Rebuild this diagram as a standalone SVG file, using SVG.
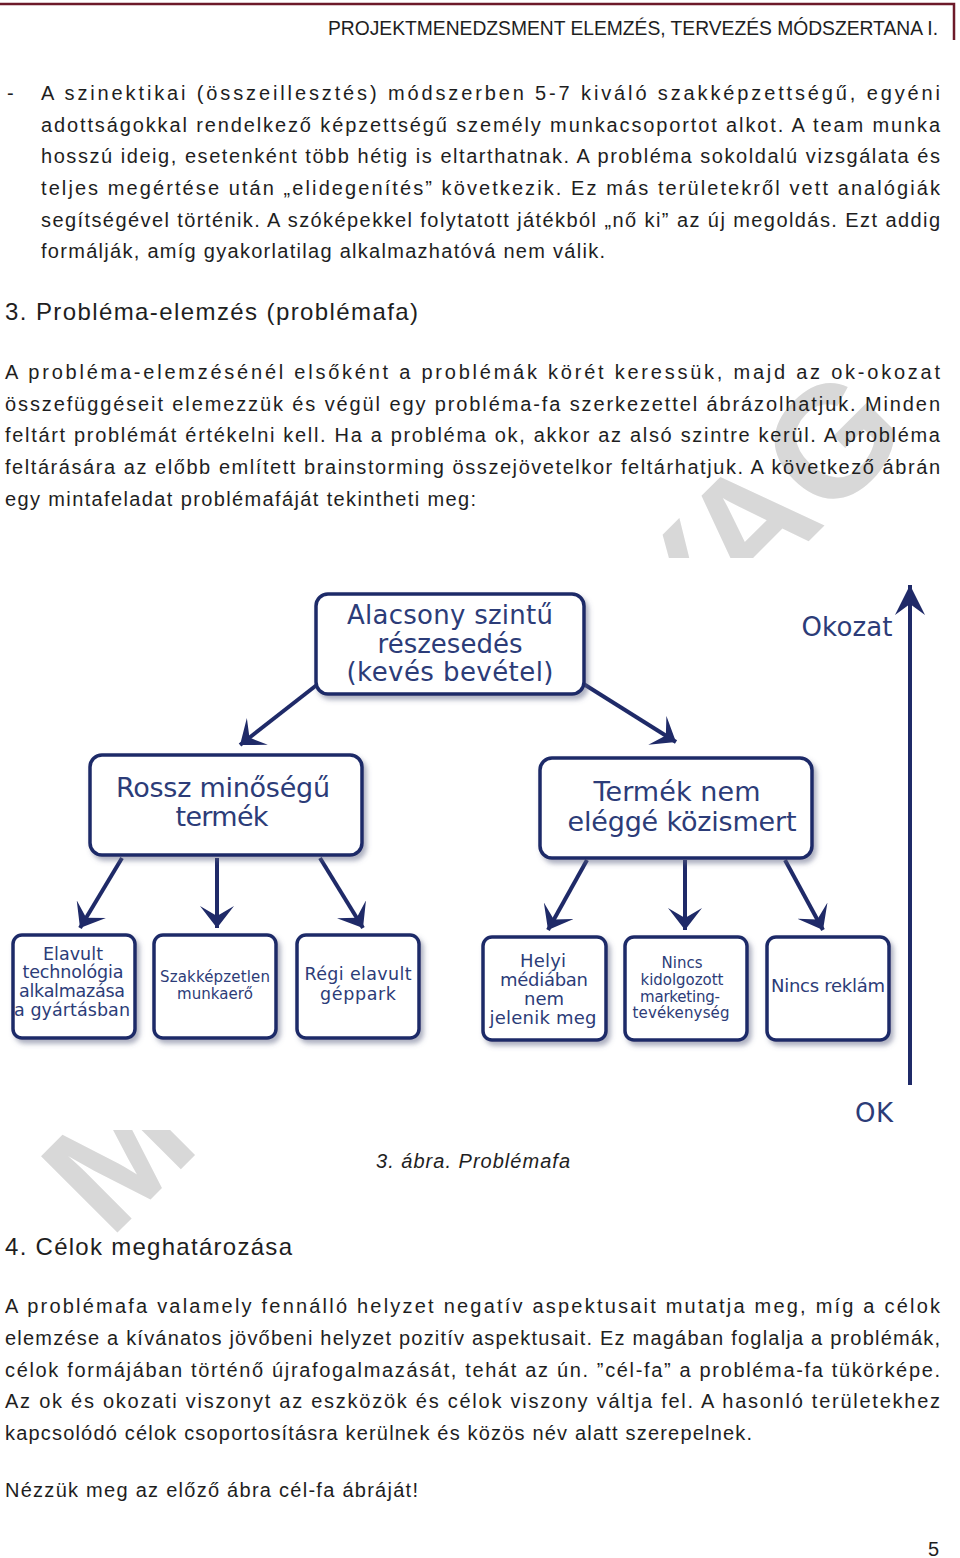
<svg xmlns="http://www.w3.org/2000/svg" width="960" height="1558" viewBox="0 0 960 1558">
<style>
.t{font-family:"Liberation Sans",Arial,sans-serif;font-size:20px;fill:#1e1e1e}
.h{font-size:24px}
.n{font-family:"DejaVu Sans",Verdana,sans-serif;fill:#2c3c78;text-anchor:middle}
.box{fill:#fff;stroke:#1f2a68;stroke-width:3.5}
.c{stroke:#1f2a68;stroke-width:4;fill:none}
.wm{font-family:"Liberation Sans",Arial,sans-serif;font-weight:bold;font-size:157px;fill:#d8d8d8}
</style>
<defs>
<filter id="sh" x="-10%" y="-10%" width="130%" height="140%">
<feDropShadow dx="3" dy="4" stdDeviation="2.5" flood-color="#5a6080" flood-opacity="0.5"/>
</filter>
<marker id="ah" markerUnits="userSpaceOnUse" viewBox="0 0 22 34" markerWidth="22" markerHeight="34" refX="22" refY="17" orient="auto">
<path d="M22,17 L0,0 L10,17 L0,34 Z" fill="#1f2a68"/>
</marker>
<marker id="ah2" markerUnits="userSpaceOnUse" viewBox="0 0 30 30" markerWidth="30" markerHeight="30" refX="30" refY="15" orient="auto">
<path d="M30,15 L0,0 L11,15 L0,30 Z" fill="#1f2a68"/>
</marker>
</defs>
<rect x="0" y="0" width="960" height="1558" fill="#fff"/>

<g id="watermark">
<text class="wm" transform="translate(110,1240) rotate(-45)">MUNKAANYAG</text>
</g>

<g id="header">
<path d="M0,4 H954 V40" fill="none" stroke="#6d1a2a" stroke-width="2.5"/>
<text class="t" x="328" y="35" textLength="610" lengthAdjust="spacingAndGlyphs">PROJEKTMENEDZSMENT ELEMZÉS, TERVEZÉS MÓDSZERTANA I.</text>
</g>

<g id="para1">
<text class="t" x="7" y="100">-</text>
<text class="t" x="41" y="100" textLength="899">A szinektikai (összeillesztés) módszerben 5-7 kiváló szakképzettségű, egyéni</text>
<text class="t" x="41" y="131.5" textLength="899">adottságokkal rendelkező képzettségű személy munkacsoportot alkot. A team munka</text>
<text class="t" x="41" y="163" textLength="899">hosszú ideig, esetenként több hétig is eltarthatnak. A probléma sokoldalú vizsgálata és</text>
<text class="t" x="41" y="195" textLength="899">teljes megértése után „elidegenítés” következik. Ez más területekről vett analógiák</text>
<text class="t" x="41" y="226.5" textLength="899">segítségével történik. A szóképekkel folytatott játékból „nő ki” az új megoldás. Ezt addig</text>
<text class="t" x="41" y="258" textLength="564">formálják, amíg gyakorlatilag alkalmazhatóvá nem válik.</text>
</g>

<g id="heading3">
<text class="t h" x="5" y="320" textLength="413">3. Probléma-elemzés (problémafa)</text>
</g>

<g id="para2">
<text class="t" x="5" y="379" textLength="935">A probléma-elemzésénél elsőként a problémák körét keressük, majd az ok-okozat</text>
<text class="t" x="5" y="410.5" textLength="935">összefüggéseit elemezzük és végül egy probléma-fa szerkezettel ábrázolhatjuk. Minden</text>
<text class="t" x="5" y="442" textLength="935">feltárt problémát értékelni kell. Ha a probléma ok, akkor az alsó szintre kerül. A probléma</text>
<text class="t" x="5" y="474" textLength="935">feltárására az előbb említett brainstorming összejövetelkor feltárhatjuk. A következő ábrán</text>
<text class="t" x="5" y="505.5" textLength="471">egy mintafeladat problémafáját tekintheti meg:</text>
</g>

<rect id="diagram-bg" x="0" y="558" width="935" height="572" fill="#fff"/>

<g id="connectors">
<line class="c" x1="318" y1="684" x2="240" y2="745" marker-end="url(#ah)"/>
<line class="c" x1="582" y1="683" x2="676" y2="742" marker-end="url(#ah)"/>
<line class="c" x1="122" y1="858" x2="80" y2="928" marker-end="url(#ah)"/>
<line class="c" x1="217" y1="858" x2="217" y2="928" marker-end="url(#ah)"/>
<line class="c" x1="320" y1="858" x2="363" y2="928" marker-end="url(#ah)"/>
<line class="c" x1="587" y1="860" x2="548" y2="930" marker-end="url(#ah)"/>
<line class="c" x1="685" y1="860" x2="685" y2="930" marker-end="url(#ah)"/>
<line class="c" x1="785" y1="860" x2="823" y2="930" marker-end="url(#ah)"/>
<line class="c" x1="910" y1="1085" x2="910" y2="585" marker-end="url(#ah2)"/>
</g>

<g id="n-top">
<rect class="box" x="316" y="594" width="268" height="100" rx="12" filter="url(#sh)"/>
<text class="n" x="450" y="624" font-size="26" textLength="206">Alacsony szintű</text>
<text class="n" x="450" y="653" font-size="26" textLength="145">részesedés</text>
<text class="n" x="450" y="681" font-size="26" textLength="207">(kevés bevétel)</text>
</g>

<g id="n-okozat">
<text class="n" x="847" y="636" font-size="26" textLength="91">Okozat</text>
</g>

<g id="n-ok">
<text class="n" x="874" y="1122" font-size="26" textLength="38">OK</text>
</g>

<g id="n-rossz">
<rect class="box" x="90" y="755" width="272" height="100" rx="12" filter="url(#sh)"/>
<text class="n" x="223" y="797" font-size="27" textLength="214">Rossz minőségű</text>
<text class="n" x="222" y="826" font-size="27" textLength="93">termék</text>
</g>

<g id="n-termek">
<rect class="box" x="540" y="758" width="272" height="100" rx="12" filter="url(#sh)"/>
<text class="n" x="677" y="801" font-size="27" textLength="167">Termék nem</text>
<text class="n" x="682" y="831" font-size="27" textLength="229">eléggé közismert</text>
</g>

<g id="n-elavult">
<rect class="box" x="13" y="935" width="122" height="103" rx="9" filter="url(#sh)"/>
<text class="n" x="73" y="959.5" font-size="17.5" textLength="60">Elavult</text>
<text class="n" x="73" y="977.5" font-size="17.5" textLength="101">technológia</text>
<text class="n" x="72" y="996.5" font-size="17.5" textLength="106">alkalmazása</text>
<text class="n" x="72" y="1015.5" font-size="17.5" textLength="116">a gyártásban</text>
</g>

<g id="n-szak">
<rect class="box" x="154" y="935" width="122" height="103" rx="9" filter="url(#sh)"/>
<text class="n" x="215" y="982" font-size="15" textLength="110">Szakképzetlen</text>
<text class="n" x="215" y="998.5" font-size="15" textLength="76">munkaerő</text>
</g>

<g id="n-regi">
<rect class="box" x="297" y="935" width="122" height="103" rx="9" filter="url(#sh)"/>
<text class="n" x="358" y="980" font-size="17.5" textLength="107">Régi elavult</text>
<text class="n" x="358" y="999.5" font-size="17.5" textLength="76">géppark</text>
</g>

<g id="n-helyi">
<rect class="box" x="483" y="937" width="123" height="103" rx="9" filter="url(#sh)"/>
<text class="n" x="543" y="966.5" font-size="18" textLength="46">Helyi</text>
<text class="n" x="544" y="985.5" font-size="18" textLength="88">médiában</text>
<text class="n" x="544" y="1004.5" font-size="18" textLength="40">nem</text>
<text class="n" x="543" y="1024" font-size="18" textLength="107">jelenik meg</text>
</g>

<g id="n-nincs-marketing">
<rect class="box" x="625" y="937" width="122" height="103" rx="9" filter="url(#sh)"/>
<text class="n" x="682" y="967.5" font-size="15" textLength="41">Nincs</text>
<text class="n" x="682" y="984.5" font-size="15" textLength="83">kidolgozott</text>
<text class="n" x="680" y="1001.5" font-size="15" textLength="80">marketing-</text>
<text class="n" x="681" y="1017.5" font-size="15" textLength="97">tevékenység</text>
</g>

<g id="n-reklam">
<rect class="box" x="767" y="937" width="122" height="103" rx="9" filter="url(#sh)"/>
<text class="n" x="828" y="991.5" font-size="18" textLength="114">Nincs reklám</text>
</g>

<g id="caption">
<text class="t" x="376" y="1168" font-style="italic" textLength="194">3. ábra. Problémafa</text>
</g>

<g id="heading4">
<text class="t h" x="5" y="1255" textLength="287">4. Célok meghatározása</text>
</g>

<g id="para3">
<text class="t" x="5" y="1313" textLength="935">A problémafa valamely fennálló helyzet negatív aspektusait mutatja meg, míg a célok</text>
<text class="t" x="5" y="1345" textLength="935">elemzése a kívánatos jövőbeni helyzet pozitív aspektusait. Ez magában foglalja a problémák,</text>
<text class="t" x="5" y="1377" textLength="935">célok formájában történő újrafogalmazását, tehát az ún. ”cél-fa” a probléma-fa tükörképe.</text>
<text class="t" x="5" y="1408" textLength="935">Az ok és okozati viszonyt az eszközök és célok viszony váltja fel. A hasonló területekhez</text>
<text class="t" x="5" y="1440" textLength="747">kapcsolódó célok csoportosításra kerülnek és közös név alatt szerepelnek.</text>
<text class="t" x="5" y="1497" textLength="413">Nézzük meg az előző ábra cél-fa ábráját!</text>
</g>

<g id="page-number">
<text class="t" x="928" y="1556">5</text>
</g>
</svg>
